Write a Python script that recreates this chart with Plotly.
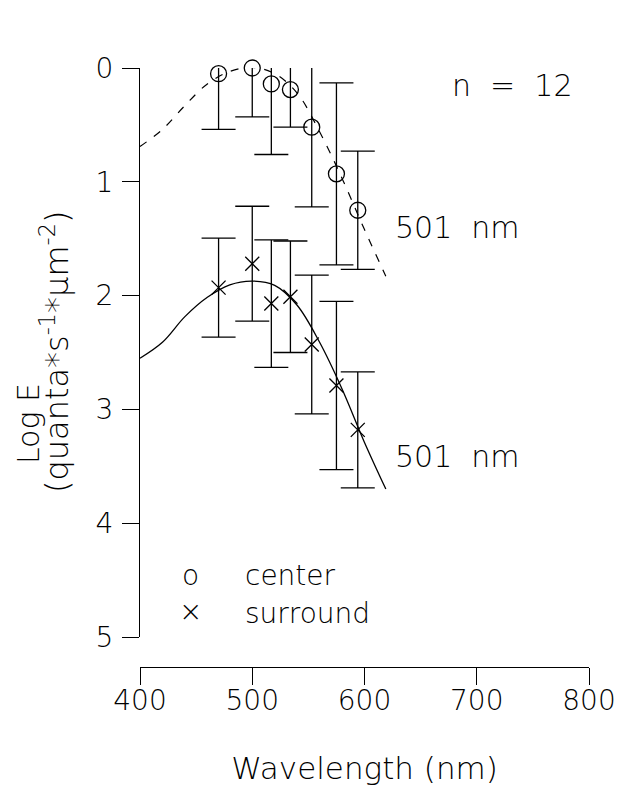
import plotly.graph_objects as go

# ---- data ----
wavelengths = [470, 500, 517, 534, 553, 575, 594]
center_logE = [0.05, 0.00, 0.14, 0.19, 0.52, 0.93, 1.25]
center_err = [0.49, 0.43, 0.62, 0.33, 0.70, 0.80, 0.52]
surround_logE = [1.93, 1.72, 2.07, 2.01, 2.43, 2.79, 3.18]
surround_err = [0.435, 0.505, 0.56, 0.49, 0.61, 0.74, 0.51]

curve_wl = [400, 420, 440, 460, 480, 500, 520, 540, 560, 580, 600, 619]
center_fit = [0.69, 0.54, 0.33, 0.14, 0.03, -0.005, 0.05, 0.22, 0.56, 0.97, 1.42, 1.83]
surround_fit = [2.55, 2.41, 2.185, 2.015, 1.905, 1.872, 1.91, 2.085, 2.41, 2.82, 3.29, 3.70]

y_ticks = [0, 1, 2, 3, 4, 5]
x_ticks = [400, 500, 600, 700, 800]

FONT = "DejaVu Sans"
WEIGHT = 200
INK = "#000000"
NB = "\u00a0"

fig = go.Figure()

fig.add_trace(go.Scatter(
    x=curve_wl, y=center_fit, mode="lines", line_shape="spline",
    line=dict(color=INK, width=1.2, dash="8px,9px"), hoverinfo="skip"))
fig.add_trace(go.Scatter(
    x=curve_wl, y=surround_fit, mode="lines", line_shape="spline",
    line=dict(color=INK, width=1.3), hoverinfo="skip"))

fig.add_trace(go.Scatter(
    x=wavelengths, y=center_logE, mode="markers", cliponaxis=False,
    marker=dict(symbol="circle-open", size=16, color=INK, line=dict(width=1.3, color=INK)),
    error_y=dict(type="data", array=center_err, visible=True, color=INK, thickness=1.3, width=17)))
fig.add_trace(go.Scatter(
    x=wavelengths, y=surround_logE, mode="markers", cliponaxis=False,
    marker=dict(symbol="x-thin-open", size=14, color=INK, line=dict(width=1.3, color=INK)),
    error_y=dict(type="data", array=surround_err, visible=True, color=INK, thickness=1.3, width=17)))

ann_font = dict(family=FONT, size=28, color=INK, weight=WEIGHT)
big_font = dict(family=FONT, size=30, color=INK, weight=WEIGHT)
annotations = [
    dict(x=731, y=0.15, text=f"n{NB}{NB}={NB}{NB}12", showarrow=False, font=big_font,
         xanchor="center", yanchor="middle"),
    dict(x=683, y=1.40, text=f"501{NB}{NB}nm", showarrow=False, font=big_font,
         xanchor="center", yanchor="middle"),
    dict(x=683, y=3.41, text=f"501{NB}{NB}nm", showarrow=False, font=big_font,
         xanchor="center", yanchor="middle"),
    dict(x=445, y=4.46, text="o", showarrow=False, font=ann_font, xanchor="center", yanchor="middle"),
    dict(x=491.5, y=4.46, text="center", showarrow=False, font=ann_font, xanchor="left", yanchor="middle"),
    dict(x=445, y=4.78, text="×", showarrow=False, font=ann_font, xanchor="center", yanchor="middle"),
    dict(x=491.5, y=4.79, text="surround", showarrow=False, font=ann_font, xanchor="left", yanchor="middle"),
    dict(x=28, y=424, xref="paper", yref="paper", text="Log E", showarrow=False,
         font=dict(family=FONT, size=30, color=INK, weight=WEIGHT),
         textangle=-90, xanchor="center", yanchor="middle"),
    dict(x=55, y=352, xref="paper", yref="paper", text="(quanta*s<sup>-1</sup>*μm<sup>-2</sup>)",
         showarrow=False, font=dict(family=FONT, size=32, color=INK, weight=WEIGHT),
         textangle=-90, xanchor="center", yanchor="middle"),
]

# convert pixel-placed paper annotations (for the y title) to paper fractions
L, R, T, B, W, H = 140, 34.7, 68, 119, 624, 786
pw, ph = W - L - R, H - T - B
for a in annotations:
    if a.get("xref") == "paper":
        a["x"] = (a["x"] - L) / pw
        a["y"] = (H - B - a["y"]) / ph

tick_font = dict(family=FONT, size=28, color=INK, weight=WEIGHT)

fig.update_layout(
    width=W, height=H, margin=dict(l=L, r=R, t=T, b=B, autoexpand=False),
    paper_bgcolor="white", plot_bgcolor="white", showlegend=False,
    font=dict(family=FONT, size=28, color=INK, weight=WEIGHT),
    annotations=annotations,
    xaxis=dict(range=[400, 800], tickvals=x_ticks, ticks="outside", ticklen=17, tickwidth=1.3,
               tickcolor=INK, showline=True, linecolor=INK, linewidth=1.3, showgrid=False,
               zeroline=False, anchor="free", position=0, tickfont=tick_font,
               ticklabelstandoff=-9,
               title=dict(text="Wavelength (nm)", standoff=46,
                          font=dict(family=FONT, size=31, color=INK, weight=WEIGHT))),
    yaxis=dict(range=[5, 0], domain=[(667 - 637) / (786 - 68 - 119), 1], tickvals=y_ticks,
               ticks="outside", ticklen=17, tickwidth=1.3, tickcolor=INK, showline=True,
               linecolor=INK, linewidth=1.3, showgrid=False, zeroline=False,
               tickfont=tick_font, ticklabelstandoff=3),
)

fig.write_html("out.html", config={"displayModeBar": False},
               post_script="document.body.style.margin='0';")
